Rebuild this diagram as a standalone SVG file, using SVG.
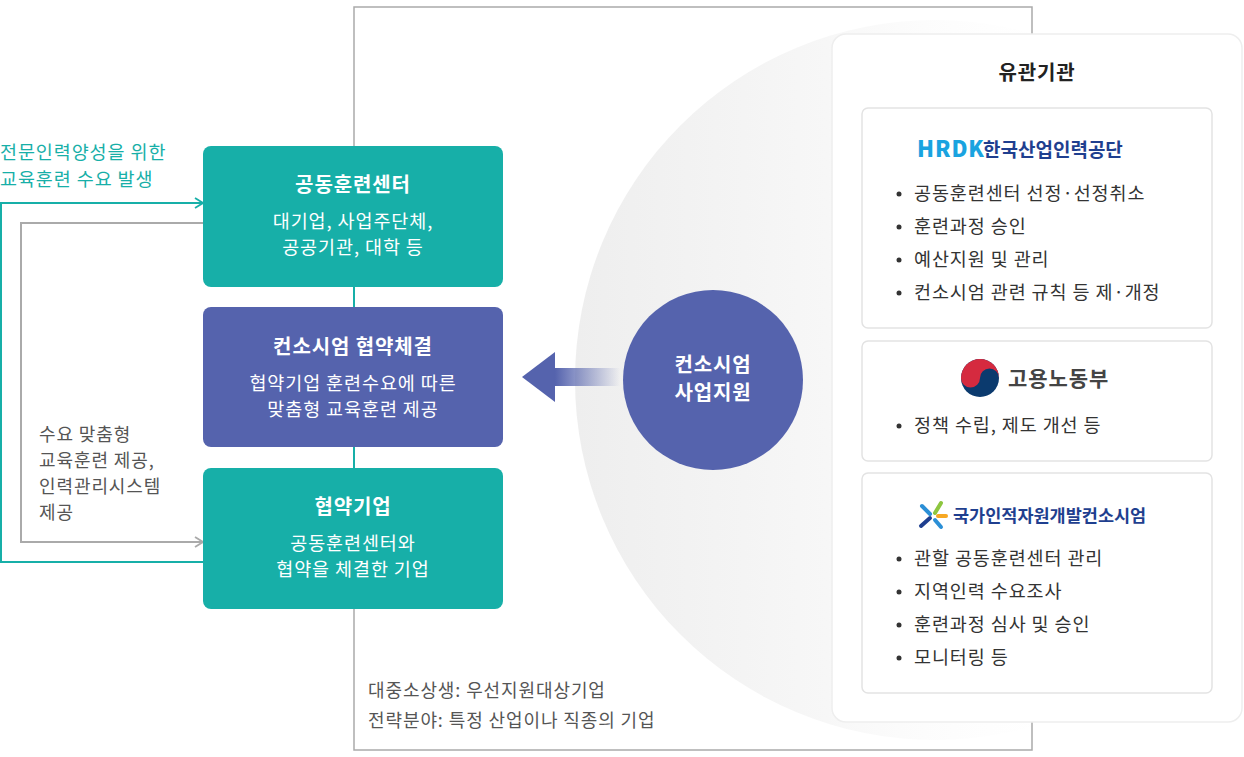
<svg xmlns="http://www.w3.org/2000/svg" width="1244" height="757" viewBox="0 0 1244 757">
<defs>
<style>
text{font-family:"Noto Sans CJK KR","Noto Sans",sans-serif;letter-spacing:0.9px}
.bt{fill:#fff;font-size:20px;font-weight:700;text-anchor:middle}
.bs{fill:#fff;font-size:18.5px;text-anchor:middle}
.li{fill:#333;font-size:18.5px}
.card{fill:#fff;stroke:#e3e3e3;stroke-width:1.5}
</style>
<linearGradient id="cg" x1="0" y1="0" x2="1" y2="0">
<stop offset="0" stop-color="#eeeeee"/><stop offset="0.35" stop-color="#f7f7f7"/><stop offset="0.7" stop-color="#fff" stop-opacity="0"/>
</linearGradient>
<linearGradient id="ag" x1="0" y1="0" x2="1" y2="0">
<stop offset="0" stop-color="#5563ad"/><stop offset="1" stop-color="#5563ad" stop-opacity="0"/>
</linearGradient>
<marker id="mt" markerWidth="10" markerHeight="12" refX="9" refY="6" orient="auto" markerUnits="userSpaceOnUse"><path d="M1,1 L9,6 L1,11" fill="none" stroke="#17afa8" stroke-width="1.8"/></marker>
<marker id="mg" markerWidth="10" markerHeight="12" refX="9" refY="6" orient="auto" markerUnits="userSpaceOnUse"><path d="M1,1 L9,6 L1,11" fill="none" stroke="#aaa" stroke-width="1.8"/></marker>
</defs>
<rect width="1244" height="757" fill="#fff"/>
<circle cx="935" cy="380" r="360" fill="url(#cg)"/>
<rect x="354" y="7" width="678" height="743" fill="none" stroke="#aaa" stroke-width="1.5"/>
<g id="connectors">
<line x1="354" y1="287" x2="354" y2="307" stroke="#17afa8" stroke-width="2"/>
<line x1="354" y1="447" x2="354" y2="468" stroke="#17afa8" stroke-width="2"/>
<polyline points="203,562 1,562 1,203 203,203" fill="none" stroke="#17afa8" stroke-width="2" marker-end="url(#mt)"/>
<polyline points="203,223 21,223 21,542 203,542" fill="none" stroke="#aaa" stroke-width="2" marker-end="url(#mg)"/>
<rect x="555" y="368" width="65" height="18" fill="url(#ag)"/>
<path d="M555,352 L522,377 L555,402 Z" fill="#5563ad"/>
</g>
<text x="0" y="159" fill="#17afa8" font-size="18.5">전문인력양성을 위한</text>
<text x="0" y="186" fill="#17afa8" font-size="18.5">교육훈련 수요 발생</text>
<text x="39" y="441" fill="#555" font-size="18">수요 맞춤형</text>
<text x="39" y="467" fill="#555" font-size="18">교육훈련 제공,</text>
<text x="39" y="493" fill="#555" font-size="18">인력관리시스템</text>
<text x="39" y="519" fill="#555" font-size="18">제공</text>
<g id="n1"><rect x="203" y="146" width="300" height="141" rx="8" fill="#17afa8"/>
<text class="bt" x="353" y="192">공동훈련센터</text>
<text class="bs" x="353" y="228">대기업, 사업주단체,</text>
<text class="bs" x="353" y="254">공공기관, 대학 등</text></g>
<g id="n2"><rect x="203" y="307" width="300" height="140" rx="8" fill="#5563ad"/>
<text class="bt" x="353" y="354">컨소시엄 협약체결</text>
<text class="bs" x="353" y="390">협약기업 훈련수요에 따른</text>
<text class="bs" x="353" y="416">맞춤형 교육훈련 제공</text></g>
<g id="n3"><rect x="203" y="468" width="300" height="141" rx="8" fill="#17afa8"/>
<text class="bt" x="353" y="514">협약기업</text>
<text class="bs" x="353" y="550">공동훈련센터와</text>
<text class="bs" x="353" y="576">협약을 체결한 기업</text></g>
<g id="n4"><circle cx="713" cy="380" r="90" fill="#5563ad"/>
<text class="bt" x="713" y="372">컨소시엄</text>
<text class="bt" x="713" y="400">사업지원</text></g>
<text x="368" y="697" fill="#555" font-size="18">대중소상생: 우선지원대상기업</text>
<text x="368" y="727" fill="#555" font-size="18">전략분야: 특정 산업이나 직종의 기업</text>
<g id="panel"><rect x="832" y="34" width="410" height="688" rx="14" fill="#fff" stroke="#eee" stroke-width="1.5"/>
<text x="1037" y="80" fill="#222" font-size="20" font-weight="700" text-anchor="middle">유관기관</text></g>
<g id="c1"><rect class="card" x="862" y="108" width="350" height="220" rx="6"/>
<text x="917" y="157" fill="#1aa3e0" font-size="22" font-weight="900" font-family="Liberation Sans,sans-serif">HRDK</text>
<text x="983" y="157" fill="#1f3f8f" font-size="19" font-weight="700" style="letter-spacing:0">한국산업인력공단</text>
<g class="li"><circle cx="899" cy="194" r="2.5" fill="#333"/><text x="914" y="200">공동훈련센터 선정·선정취소</text>
<circle cx="899" cy="227" r="2.5" fill="#333"/><text x="914" y="233">훈련과정 승인</text>
<circle cx="899" cy="260" r="2.5" fill="#333"/><text x="914" y="266">예산지원 및 관리</text>
<circle cx="899" cy="293" r="2.5" fill="#333"/><text x="914" y="299">컨소시엄 관련 규칙 등 제·개정</text></g></g>
<g id="c2"><rect class="card" x="862" y="341" width="350" height="120" rx="6"/>
<circle cx="980" cy="378" r="19" fill="#0b3a6e"/>
<path d="M961,378 A19,19 0 0 1 999,378 A9.5,9.5 0 0 0 980,378 A9.5,9.5 0 0 1 961,378Z" fill="#d52a3f"/>
<text x="1008" y="386" fill="#444" font-size="21" font-weight="700">고용노동부</text>
<circle cx="899" cy="426" r="2.5" fill="#333"/><text class="li" x="914" y="432">정책 수립, 제도 개선 등</text></g>
<g id="c3"><rect class="card" x="862" y="473" width="350" height="220" rx="6"/>
<g stroke-width="4" stroke-linecap="round"><line x1="922" y1="506" x2="930" y2="514" stroke="#2b8fd6"/><line x1="941" y1="503" x2="935" y2="513" stroke="#8dc63f"/><line x1="930" y1="518" x2="921" y2="526" stroke="#1f3f8f"/><line x1="935" y1="520" x2="941" y2="527" stroke="#2b8fd6"/><line x1="938" y1="516" x2="946" y2="516" stroke="#f7a823"/></g>
<text x="953" y="522" fill="#1f3f8f" font-size="17.5" font-weight="700" style="letter-spacing:0">국가인적자원개발컨소시엄</text>
<g class="li"><circle cx="899" cy="559" r="2.5" fill="#333"/><text x="914" y="565">관할 공동훈련센터 관리</text>
<circle cx="899" cy="592" r="2.5" fill="#333"/><text x="914" y="598">지역인력 수요조사</text>
<circle cx="899" cy="625" r="2.5" fill="#333"/><text x="914" y="631">훈련과정 심사 및 승인</text>
<circle cx="899" cy="658" r="2.5" fill="#333"/><text x="914" y="664">모니터링 등</text></g></g>
</svg>
